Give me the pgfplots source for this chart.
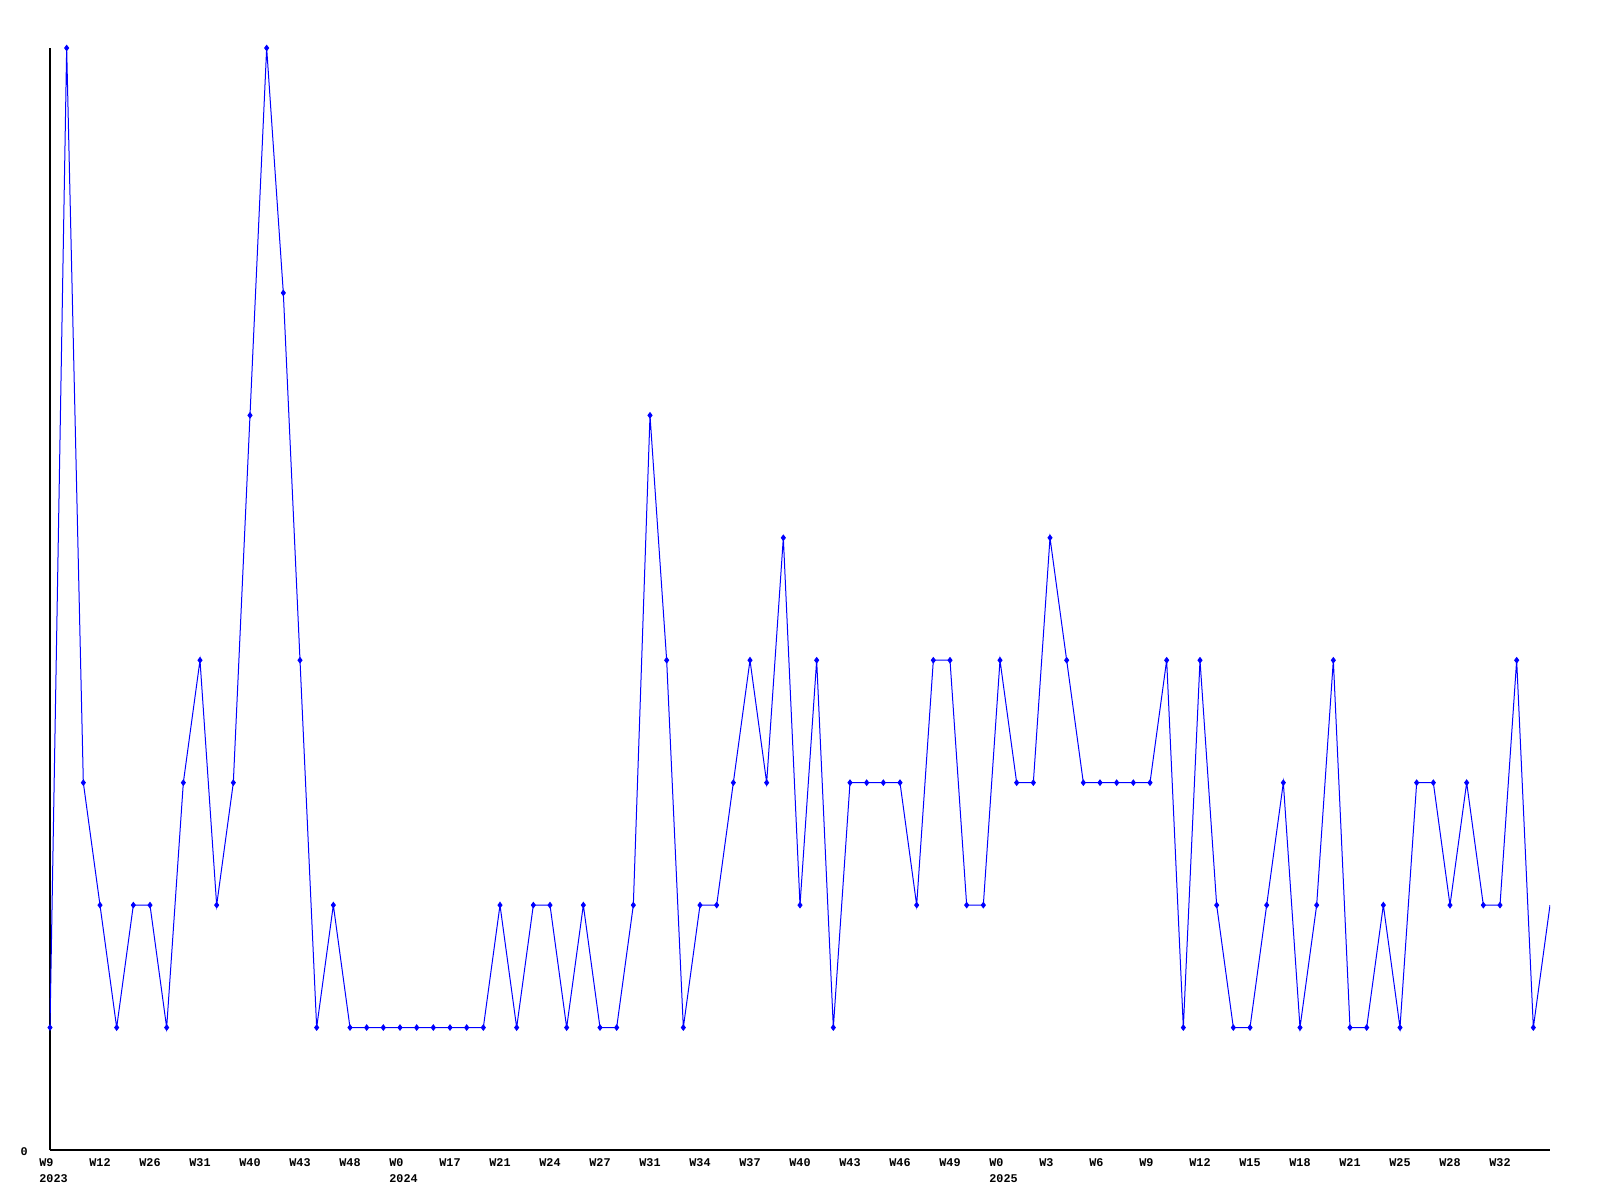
\documentclass[border=0pt]{standalone}
\usepackage{pgfplots}
\pgfplotsset{compat=1.18}
\usepackage{fontspec}
\setmainfont{Liberation Sans}
\newfontfamily\monofont{Liberation Mono}
\begin{document}
\begin{tikzpicture}
\useasboundingbox (-25pt,-25pt) rectangle (775pt,575pt);
\begin{axis}[
  at={(0,0)}, anchor=south west,
  scale only axis, width=750pt, height=551pt,
  xmin=0, xmax=90, ymin=0, ymax=9,
  axis x line*=bottom, axis y line*=left,
  axis line style={-, black, line width=0.6pt},
  major tick length=0pt,
  xtick={0,3,...,87},
  xticklabels={{W9\\2023},W12,W26,W31,W40,W43,W48,{W0\\2024},W17,W21,W24,W27,W31,W34,W37,W40,W43,W46,W49,{W0\\2025},W3,W6,W9,W12,W15,W18,W21,W25,W28,W32},
  xticklabel style={anchor=north west, align=left, inner sep=0pt, xshift=-5.5pt, yshift=-4.3pt,
    font=\monofont\bfseries\fontsize{5.9}{7.8}\selectfont},
  ytick={0}, yticklabels={0},
  yticklabel style={anchor=east, inner sep=0pt, xshift=-11pt, yshift=-1pt,
    font=\monofont\bfseries\fontsize{5.9}{7.8}\selectfont},
]
\addplot[color={rgb,255:red,0;green,0;blue,255}, line width=0.5pt, mark=diamond*, mark size=1.3pt, mark indices={1,...,90}, mark options={fill={rgb,255:red,0;green,0;blue,255}}] coordinates {
(0,1)(1,9)(2,3)(3,2)(4,1)(5,2)(6,2)(7,1)(8,3)(9,4)
(10,2)(11,3)(12,6)(13,9)(14,7)(15,4)(16,1)(17,2)(18,1)(19,1)
(20,1)(21,1)(22,1)(23,1)(24,1)(25,1)(26,1)(27,2)(28,1)(29,2)
(30,2)(31,1)(32,2)(33,1)(34,1)(35,2)(36,6)(37,4)(38,1)(39,2)
(40,2)(41,3)(42,4)(43,3)(44,5)(45,2)(46,4)(47,1)(48,3)(49,3)
(50,3)(51,3)(52,2)(53,4)(54,4)(55,2)(56,2)(57,4)(58,3)(59,3)
(60,5)(61,4)(62,3)(63,3)(64,3)(65,3)(66,3)(67,4)(68,1)(69,4)
(70,2)(71,1)(72,1)(73,2)(74,3)(75,1)(76,2)(77,4)(78,1)(79,1)
(80,2)(81,1)(82,3)(83,3)(84,2)(85,3)(86,2)(87,2)(88,4)(89,1)
(90,2)
};
\end{axis}
\end{tikzpicture}
\end{document}
